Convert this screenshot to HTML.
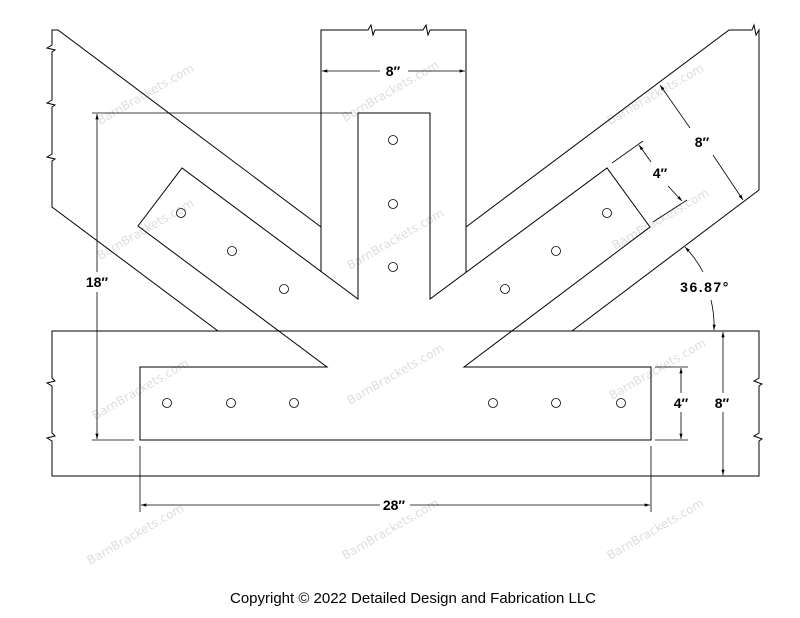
<!DOCTYPE html>
<html><head><meta charset="utf-8"><style>
html,body{margin:0;padding:0;background:#fff;width:800px;height:618px;overflow:hidden}
svg{display:block}
.l{stroke:#000;stroke-width:1;fill:none}
.d{stroke:#000;stroke-width:0.8;fill:none}
.t{font-family:"Liberation Sans",sans-serif;font-weight:bold;font-size:14px;fill:#000}
.w{font-family:"DejaVu Sans",sans-serif;font-size:12px;fill:#ddd}
</style></head><body>
<svg width="800" height="618" viewBox="0 0 800 618" xmlns="http://www.w3.org/2000/svg">
<defs>
<marker id="a" viewBox="0 0 10 6" refX="10" refY="3" markerWidth="8" markerHeight="4" orient="auto-start-reverse"><path d="M0,0L10,3L0,6z" fill="#000"/></marker>
</defs>
<g class="w">
<text transform="translate(100,125) rotate(-30)">BarnBrackets.com</text>
<text transform="translate(345,122) rotate(-30)">BarnBrackets.com</text>
<text transform="translate(350,270) rotate(-30)">BarnBrackets.com</text>
<text transform="translate(100,260) rotate(-30)">BarnBrackets.com</text>
<text transform="translate(610,125) rotate(-30)">BarnBrackets.com</text>
<text transform="translate(615,250) rotate(-30)">BarnBrackets.com</text>
<text transform="translate(95,420) rotate(-30)">BarnBrackets.com</text>
<text transform="translate(350,405) rotate(-30)">BarnBrackets.com</text>
<text transform="translate(612,400) rotate(-30)">BarnBrackets.com</text>
<text transform="translate(90,565) rotate(-30)">BarnBrackets.com</text>
<text transform="translate(345,560) rotate(-30)">BarnBrackets.com</text>
<text transform="translate(610,560) rotate(-30)">BarnBrackets.com</text>
</g>
<path class="l" d="M321,227 L58,30 L52,30 L52,45 L47,48 L55,50 L52,52 L52,100 L47,103 L55,105 L52,107 L52,154 L47,157 L55,159 L52,161 L52,207 L218,331"/>
<path class="l" d="M321,272 L321,30 L368,30 L371,25 L373,35 L375,30 L423,30 L426,25 L428,35 L430,30 L466,30 L466,272"/>
<path class="l" d="M466,227 L729,30 L752,30 L754,25 L756,35 L759,30 L759,190 L572,331"/>
<path class="l" d="M52,331 L759,331 L759,378 L754,381 L762,384 L759,386 L759,433 L754,436 L762,439 L759,441 L759,476 L52,476 L52,441 L47,438 L55,436 L52,433 L52,386 L47,383 L55,381 L52,378 Z"/>
<path class="l" d="M358,113 L430,113 L430,299 L607,168 L650,227 L464,367 L651,367 L651,440 L140,440 L140,367 L327,367 L138,226 L182,168 L358,299 Z"/>
<g class="d" stroke-width="0.9">
<circle cx="393" cy="140" r="4.5"/><circle cx="393" cy="204" r="4.5"/><circle cx="393" cy="267" r="4.5"/>
<circle cx="181" cy="213" r="4.5"/><circle cx="232" cy="251" r="4.5"/><circle cx="284" cy="289" r="4.5"/>
<circle cx="607" cy="213" r="4.5"/><circle cx="556" cy="251" r="4.5"/><circle cx="505" cy="289" r="4.5"/>
<circle cx="167" cy="403" r="4.5"/><circle cx="231" cy="403" r="4.5"/><circle cx="294" cy="403" r="4.5"/>
<circle cx="493" cy="403" r="4.5"/><circle cx="556" cy="403" r="4.5"/><circle cx="621" cy="403" r="4.5"/>
</g>
<line class="d" x1="380" y1="71" x2="322" y2="71" marker-end="url(#a)"/>
<line class="d" x1="408" y1="71" x2="465" y2="71" marker-end="url(#a)"/>
<text class="t" x="393" y="76" text-anchor="middle">8″</text>
<line class="d" x1="92" y1="113" x2="352" y2="113"/>
<line class="d" x1="92" y1="440" x2="134" y2="440"/>
<line class="d" x1="97" y1="272" x2="97" y2="114" marker-end="url(#a)"/>
<line class="d" x1="97" y1="292" x2="97" y2="439" marker-end="url(#a)"/>
<text class="t" x="97" y="287" text-anchor="middle">18″</text>
<line class="d" x1="690" y1="128" x2="660" y2="85" marker-end="url(#a)"/>
<line class="d" x1="713" y1="155" x2="743" y2="200" marker-end="url(#a)"/>
<text class="t" x="702" y="147" text-anchor="middle">8″</text>
<line class="d" x1="612" y1="163" x2="643" y2="141"/>
<line class="d" x1="653" y1="222" x2="687" y2="200"/>
<line class="d" x1="651" y1="162" x2="639" y2="145" marker-end="url(#a)"/>
<line class="d" x1="668" y1="186" x2="682" y2="201" marker-end="url(#a)"/>
<text class="t" x="660" y="178" text-anchor="middle">4″</text>
<path class="d" d="M703,272 A110,110 0 0 0 685,247" marker-end="url(#a)"/>
<path class="d" d="M711,300 A110,110 0 0 1 714,330" marker-end="url(#a)"/>
<text class="t" x="705" y="292" text-anchor="middle" letter-spacing="1.5">36.87°</text>
<line class="d" x1="655" y1="367" x2="688" y2="367"/>
<line class="d" x1="655" y1="440" x2="688" y2="440"/>
<line class="d" x1="681" y1="393" x2="681" y2="368" marker-end="url(#a)"/>
<line class="d" x1="681" y1="412" x2="681" y2="439" marker-end="url(#a)"/>
<text class="t" x="681" y="408" text-anchor="middle">4″</text>
<line class="d" x1="723" y1="393" x2="723" y2="332" marker-end="url(#a)"/>
<line class="d" x1="723" y1="412" x2="723" y2="475" marker-end="url(#a)"/>
<text class="t" x="722" y="408" text-anchor="middle">8″</text>
<line class="d" x1="140" y1="446" x2="140" y2="512"/>
<line class="d" x1="651" y1="446" x2="651" y2="512"/>
<line class="d" x1="380" y1="505" x2="141" y2="505" marker-end="url(#a)"/>
<line class="d" x1="410" y1="505" x2="650" y2="505" marker-end="url(#a)"/>
<text class="t" x="394" y="510" text-anchor="middle">28″</text>
<text x="413" y="603" text-anchor="middle" style="font-family:'Liberation Sans',sans-serif;font-size:15px;fill:#000" textLength="366" lengthAdjust="spacingAndGlyphs">Copyright © 2022 Detailed Design and Fabrication LLC</text>
</svg>
</body></html>
